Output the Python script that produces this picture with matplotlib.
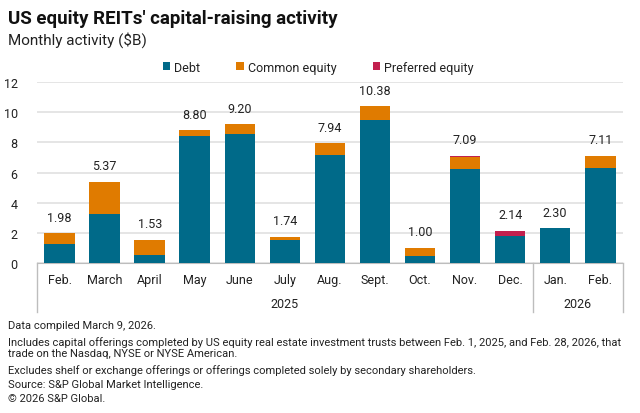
import numpy as np
import matplotlib
matplotlib.use('Agg')
import matplotlib.pyplot as plt
import matplotlib.transforms as mtransforms
from matplotlib.lines import Line2D

plt.rcParams['font.family'] = ['Roboto', 'DejaVu Sans']

# ----- DATA ------------------------------------------------------------------------
months = ['Feb.', 'March', 'April', 'May', 'June', 'July', 'Aug.', 'Sept.',
          'Oct.', 'Nov.', 'Dec.', 'Jan.', 'Feb.']
totals = [1.98, 5.37, 1.53, 8.80, 9.20, 1.74, 7.94, 10.38, 1.00, 7.09, 2.14, 2.30, 7.11]
debt = [1.28, 3.26, 0.57, 8.45, 8.54, 1.54, 7.17, 9.47, 0.44, 6.26, 1.80, 2.30, 6.29]
preferred = [0, 0, 0, 0, 0, 0, 0, 0, 0, 0.08, 0.34, 0, 0]
common = [t - d - p for t, d, p in zip(totals, debt, preferred)]
years = ['2025', '2026']
year_spans = [(0, 10), (11, 12)]

c_debt = '#006a89'
c_common = '#e07b00'
c_pref = '#c2204e'
txt = '#222222'

# ----- PLOT ------------------------------------------------------------------------
fig = plt.figure(figsize=(6.4, 4.14), dpi=100)
ax = fig.add_axes([0.058, 0.362, 0.915, 0.4375])

x = np.arange(len(months))
w = 0.68
ax.bar(x, debt, w, color=c_debt, label='Debt', zorder=3)
ax.bar(x, common, w, bottom=debt, color=c_common, label='Common equity', zorder=3)
ax.bar(x, preferred, w, bottom=np.add(debt, common), color=c_pref,
       label='Preferred equity', zorder=3)

for i, t in enumerate(totals):
    ax.annotate(f'{t:.2f}', (i, t), xytext=(0, 7), textcoords='offset points',
                ha='center', va='bottom', fontsize=9, color=txt)

ax.set_xlim(-0.5, len(months) - 0.5)
ax.set_ylim(0, 12)
ax.set_yticks(range(0, 13, 2))
ax.grid(axis='y', color='#e3e3e3', linewidth=1.3, zorder=0)
for s in ['top', 'right', 'left']:
    ax.spines[s].set_visible(False)
ax.spines['bottom'].set_color('#bdbdbd')
ax.tick_params(axis='both', length=0, labelsize=9, colors=txt)
ax.tick_params(axis='y', pad=14)
ax.set_xticks(x)
ax.set_xticklabels(months)
ax.tick_params(axis='x', pad=7)

# year groups under the month labels
trans = mtransforms.blended_transform_factory(ax.transData, ax.transAxes)
for sx in [-0.5, 10.5, 12.5]:
    ax.add_line(Line2D([sx, sx], [0, -0.27], transform=trans, color='#bdbdbd',
                       linewidth=1, clip_on=False))
for yr, (a, b) in zip(years, year_spans):
    ax.text((a + b) / 2, -0.225, yr, transform=trans, ha='center', va='center',
            fontsize=9, color=txt)

# legend
handles, labels = ax.get_legend_handles_labels()
fig.legend(handles, labels, loc='center', bbox_to_anchor=(0.497, 0.835), ncol=3,
           frameon=False, fontsize=9, handlelength=0.6, handleheight=0.6,
           columnspacing=2.9, handletextpad=0.3, labelcolor=txt)

# titles
fig.text(0.0125, 0.955, "US equity REITs' capital-raising activity", fontsize=13.5,
         fontweight='bold', color='#111111', va='center')
fig.text(0.0125, 0.903, 'Monthly activity ($B)', fontsize=11, color=txt, va='center')

notes = ['Data compiled March 9, 2026.',
         'Includes capital offerings completed by US equity real estate investment trusts '
         'between Feb. 1, 2025, and Feb. 28, 2026, that',
         'trade on the Nasdaq, NYSE or NYSE American.',
         'Excludes shelf or exchange offerings or offerings completed solely by secondary shareholders.',
         'Source: S&P Global Market Intelligence.',
         '\u00a9 2026 S&P Global.']
ys = [0.2126, 0.1715, 0.145, 0.106, 0.070, 0.036]
for n, yy in zip(notes, ys):
    fig.text(0.0125, yy, n, fontsize=8.0, color=txt, va='center')

plt.savefig('out.png', dpi=100)
